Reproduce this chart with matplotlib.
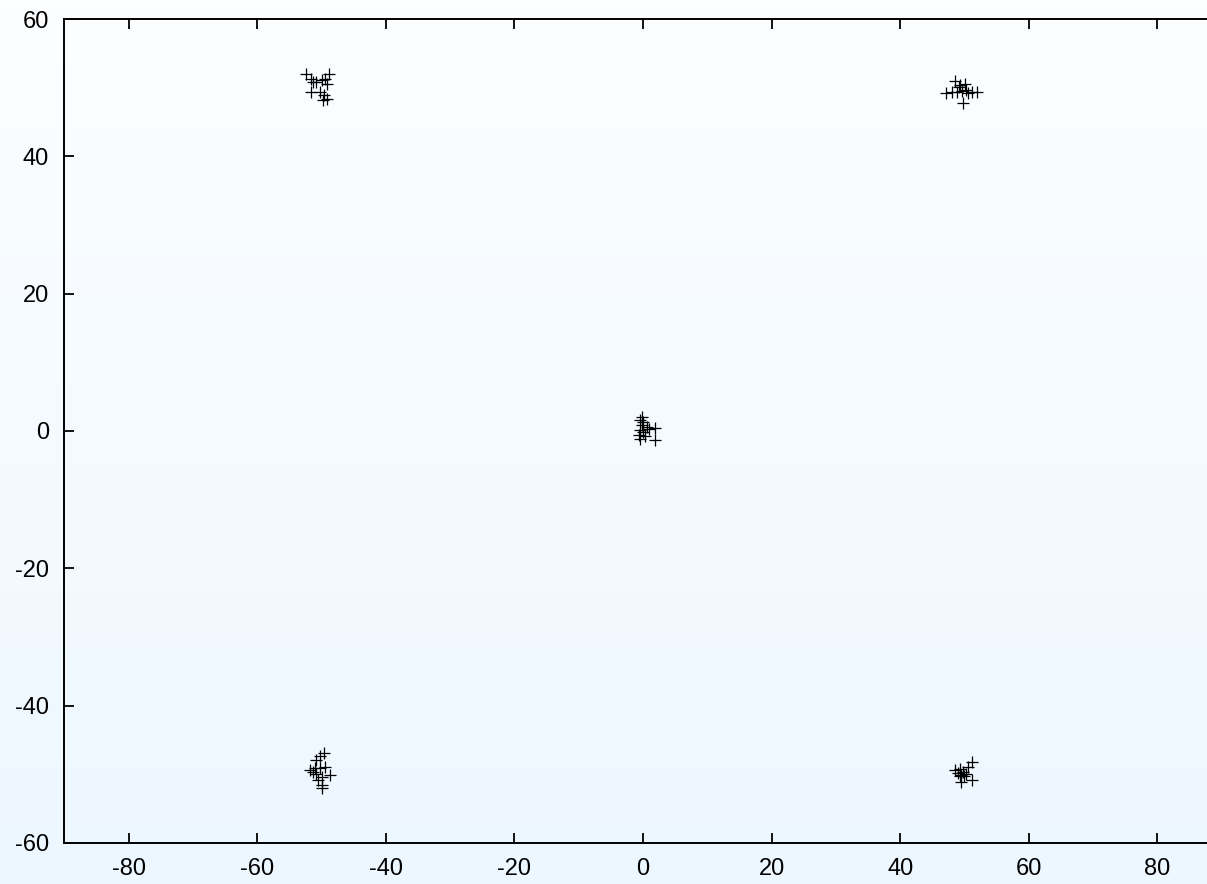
import numpy as np
import matplotlib.pyplot as plt

# -----------------------
# DATA
# -----------------------
x_top_left = [-52.4, -51.7, -51.3, -50.8, -50.0, -49.5, -49.2, -51.6, -50.2, -49.7, -49.2, -49.8, -48.8]
y_top_left = [52.0, 51.2, 50.8, 50.8, 51.1, 51.2, 50.6, 49.3, 49.3, 48.9, 48.3, 48.2, 52.0]

x_top_right = [48.5, 49.3, 50.1, 47.2, 48.0, 48.8, 49.6, 50.3, 50.6, 51.1, 51.9, 49.8, 49.2]
y_top_right = [50.9, 50.4, 50.6, 49.2, 49.4, 49.4, 49.5, 49.6, 49.2, 49.4, 49.3, 47.7, 50.1]

x_center = [-0.2, -0.5, 0.05, -0.2, 0.6, 1.0, 1.9, -0.5, 0.05, -0.7, 0.3, 1.9, -0.4]
y_center = [2.1, 1.6, 1.35, 0.9, 0.6, 0.25, 0.4, 0.15, -0.1, -0.6, -0.8, -1.3, -1.1]

x_bottom_left = [-49.7, -50.2, -50.8, -49.5, -50.2, -51.8, -51.3, -50.8, -48.7, -50.0, -50.5, -50.0, -50.0, -51.0]
y_bottom_left = [-46.9, -47.4, -47.9, -48.9, -49.1, -49.4, -49.6, -49.9, -50.1, -50.4, -50.8, -51.5, -52.0, -49.1]

x_bottom_right = [51.1, 50.6, 48.5, 49.3, 49.8, 49.0, 49.5, 50.3, 50.0, 49.5, 51.1, 49.3]
y_bottom_right = [-48.2, -48.9, -49.4, -49.2, -49.6, -49.8, -50.1, -50.0, -50.3, -51.1, -50.8, -50.3]

x_ticks = [-80, -60, -40, -20, 0, 20, 40, 60, 80]
y_ticks = [-60, -40, -20, 0, 20, 40, 60]

xs = x_top_left + x_top_right + x_center + x_bottom_left + x_bottom_right
ys = y_top_left + y_top_right + y_center + y_bottom_left + y_bottom_right

# -----------------------
# FIGURE + GRADIENT BACKGROUND
# -----------------------
plt.rcParams["font.family"] = ["Liberation Sans", "DejaVu Sans"]
plt.rcParams["axes.unicode_minus"] = False

fig = plt.figure(figsize=(12.07, 8.84), dpi=100)

bg = fig.add_axes([0, 0, 1, 1], zorder=-1)
top_col = np.array([252, 254, 255]) / 255
bot_col = np.array([237, 247, 255]) / 255
t = np.linspace(0, 1, 256)[:, None]
grad = top_col[None, :] * (1 - t) + bot_col[None, :] * t
bg.imshow(grad[:, None, :], aspect="auto", extent=[0, 1, 0, 1])
bg.axis("off")

ax = fig.add_axes([0.0534, 0.0464, 0.9587, 0.9321])
ax.patch.set_alpha(0)

# Plot
ax.plot(xs, ys, linestyle="none", marker="+", markersize=8.5,
        markeredgewidth=0.9, color="black")

ax.set_xlim(-90, 90)
ax.set_ylim(-60, 60)
ax.set_xticks(x_ticks)
ax.set_yticks(y_ticks)
ax.tick_params(direction="in", length=7.5, width=1.3, labelsize=17,
               pad=11, top=True, right=True)
for s in ax.spines.values():
    s.set_linewidth(1.4)

fig.savefig("out.png", dpi=100)
print("Chart saved")
